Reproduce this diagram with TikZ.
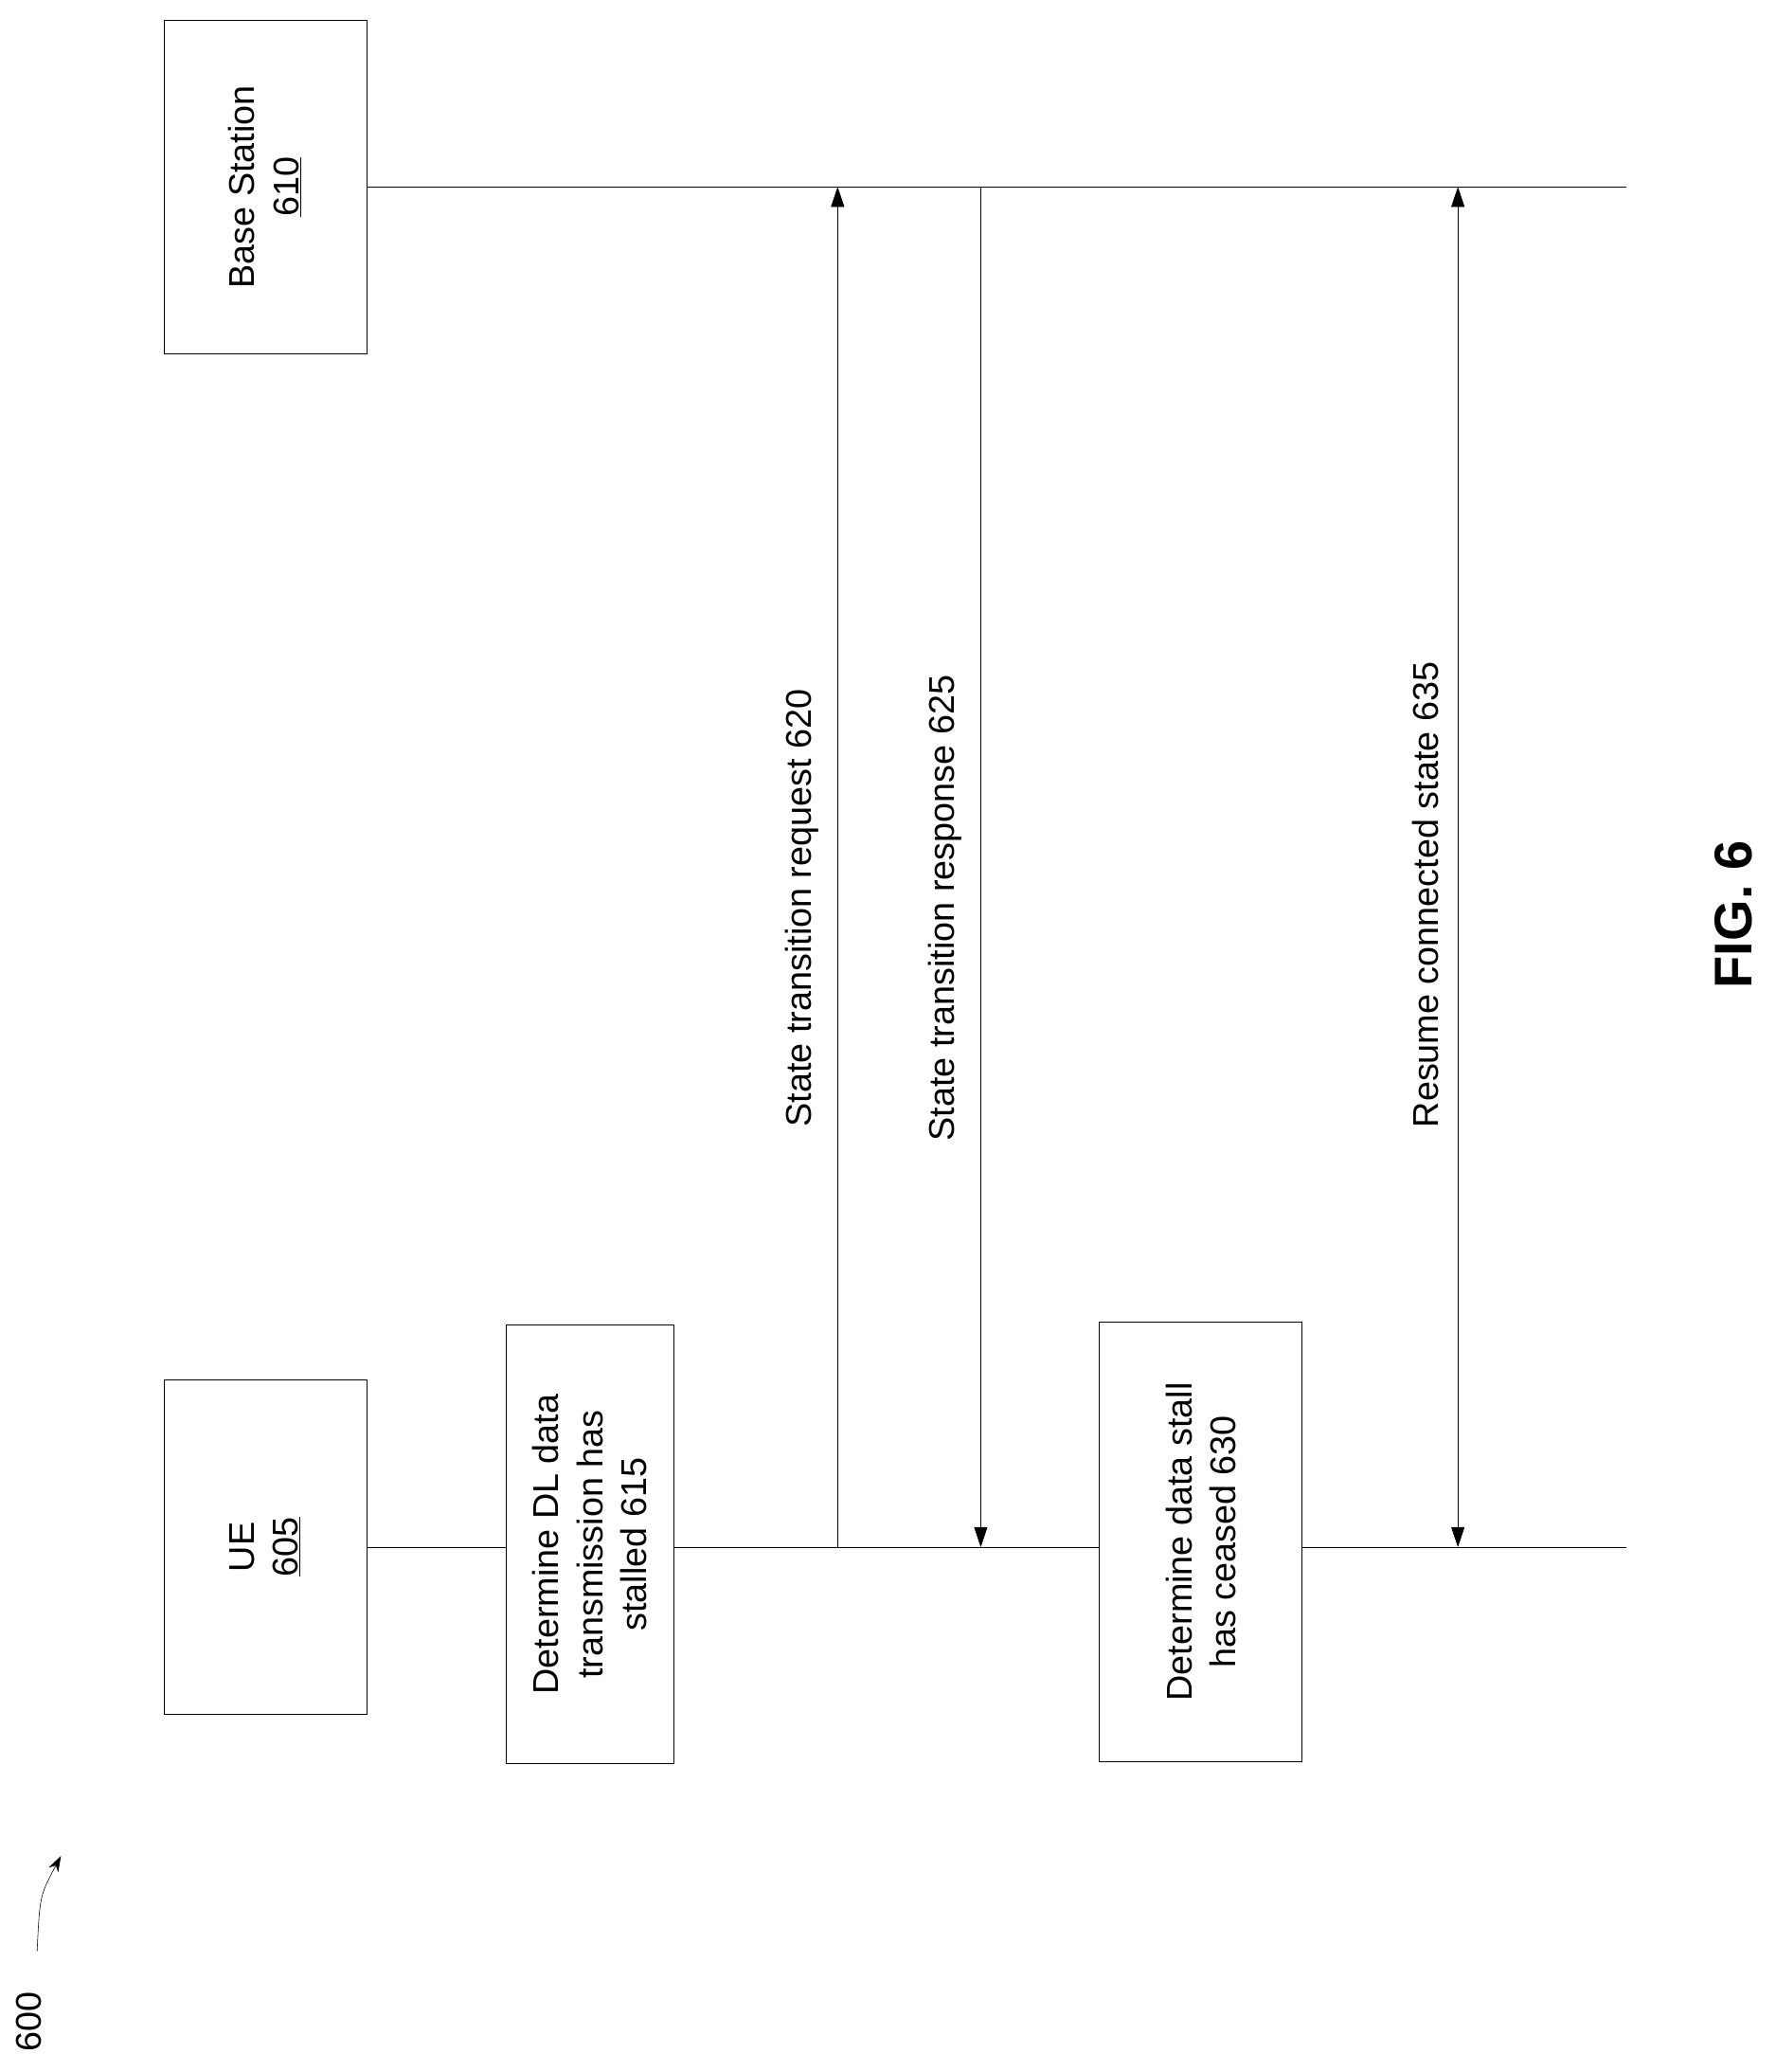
\documentclass[tikz,border=0pt]{standalone}
\usepackage{fontspec}
\setmainfont{Liberation Sans}
\usetikzlibrary{arrows.meta}
\begin{document}
\begin{tikzpicture}[x=1pt,y=-1pt,
  every node/.style={font=\fontsize{27}{33}\selectfont},
  box/.style={draw,fill=white,rotate=90,align=center,inner sep=2pt},
  msg/.style={-{Triangle[length=15pt,width=10pt]}},
  lbl/.style={rotate=90,anchor=south,inner sep=6pt}]
\useasboundingbox (0,0) rectangle (1340,1563);
% lifelines
\coordinate (bsend) at (1227,141);
\coordinate (ueend) at (1227,1167);
\draw (277,141) -- (bsend);
\draw (277,1167) -- (ueend);
% entities
\node[box,minimum width=252pt,minimum height=153pt] (bs) at (200,141) {Base Station\\\underline{610}};
\node[box,minimum width=252pt,minimum height=153pt] (ue) at (200,1167) {UE\\\underline{605}};
% steps
\node[box,minimum width=331pt,minimum height=126pt] (s615) at (445,1165) {Determine DL data\\transmission has\\stalled 615};
\node[box,minimum width=331pt,minimum height=153pt] (s630) at (906,1163) {Determine data stall\\has ceased 630};
% messages
\coordinate (u620) at (632,1167); \coordinate (b620) at (632,141);
\coordinate (u625) at (740,1167); \coordinate (b625) at (740,141);
\coordinate (u635) at (1100,1167); \coordinate (b635) at (1100,141);
\draw[msg] (u620) -- (b620);
\node[lbl] at (624,685) {State transition request 620};
\draw[msg] (b625) -- (u625);
\node[lbl] at (732,685) {State transition response 625};
\draw[msg,{Triangle[length=15pt,width=10pt]}-{Triangle[length=15pt,width=10pt]}] (u635) -- (b635);
\node[lbl] at (1092,675) {Resume connected state 635};
% figure label
\node[rotate=90,font=\fontsize{40}{48}\selectfont\bfseries] (fig) at (1308,690) {FIG. 6};
\node[rotate=90] (ref) at (22,1525) {600};
\draw[-{Stealth[length=12pt,width=8pt]}] (28,1472) .. controls (30,1430) .. (46,1400);
\end{tikzpicture}
\end{document}
